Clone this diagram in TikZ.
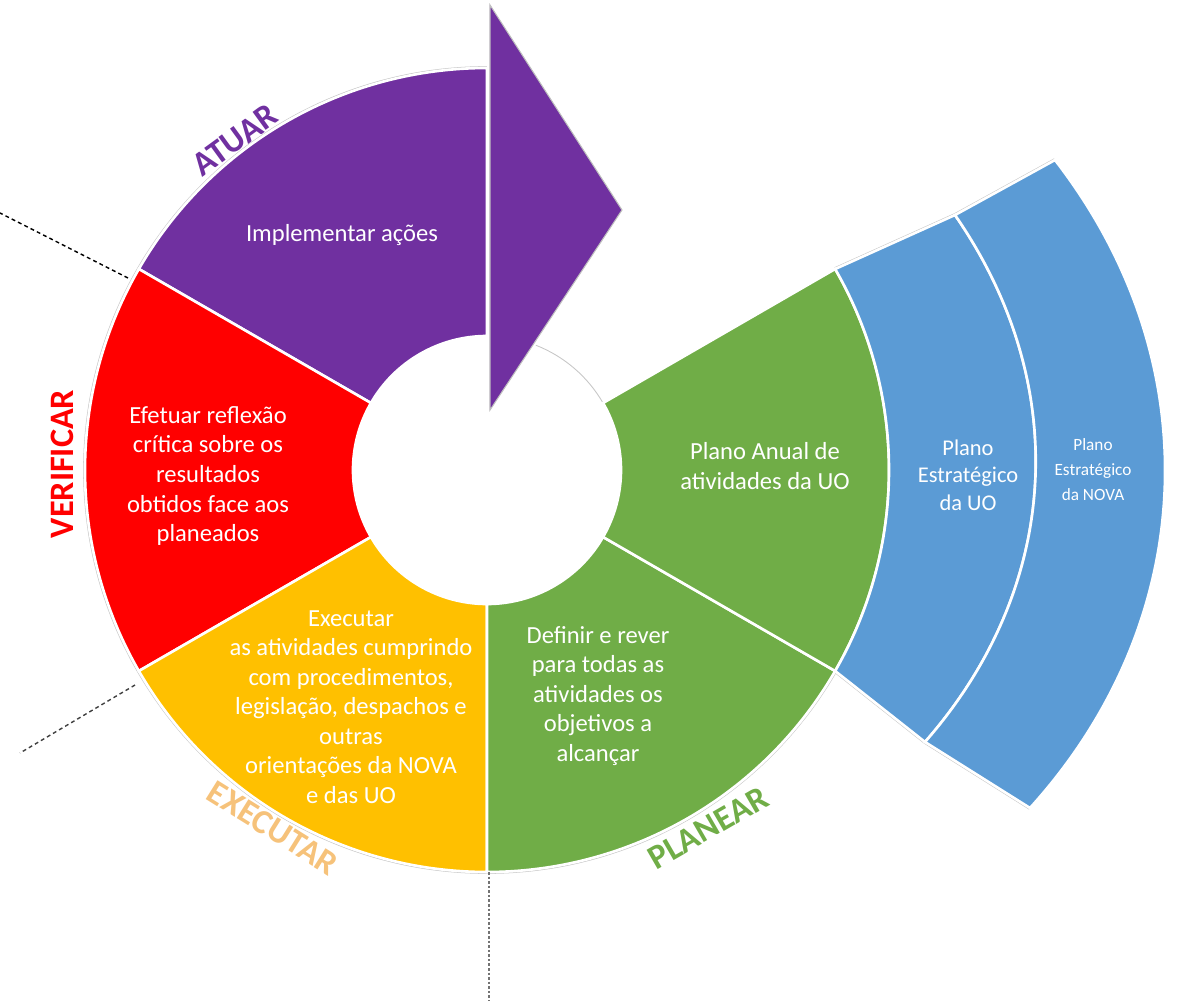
\documentclass[tikz,border=0pt]{standalone}
\usepackage{fontspec}
\setmainfont{Carlito}
\usepackage{xcolor}
\usepackage{tikz}
\usetikzlibrary{calc}
\definecolor{atuarpurple}{HTML}{7030A0}
\definecolor{verificarred}{HTML}{FF0000}
\definecolor{executaryellow}{HTML}{FFC000}
\definecolor{executarlabel}{HTML}{F6C27A}
\definecolor{planeargreen}{HTML}{70AD47}
\definecolor{planoblue}{HTML}{5B9BD5}
\tikzset{
    sector/.style={draw=white, line width=1.5pt},
    shadowline/.style={draw=black!22, line width=2.1pt},
    hairline/.style={draw=black!22, line width=0.5pt},
    cycletext/.style={text=white, align=center, inner sep=0pt, font=\fontsize{14}{16.8}\selectfont},
    phaselabel/.style={inner sep=0pt, font=\fontsize{19.5}{23}\selectfont\bfseries},
    guideline/.style={dashed, line width=0.8pt, dash pattern=on 2.2pt off 1.8pt}
}

\begin{document}
\begin{tikzpicture}[x=0.02cm, y=0.02cm]
    \useasboundingbox (-487,-531) rectangle (713,470);

    % Corners of the blue bands
    \coordinate (bandonetop) at (468,255);
    \coordinate (bandonebot) at (438,-272);
    \coordinate (bandtwotop) at (568,310);
    \coordinate (bandtwobot) at (543,-338);

    % Outline
    \draw [shadowline] (90:402) arc[start angle=90, end angle=390, radius=402];
    \draw [shadowline] (30:402) -- (bandonetop) -- (bandtwotop);
    \draw [shadowline] (-30:402) -- (bandonebot) -- (bandtwobot);
    \draw [hairline] (68.6:134) arc[start angle=68.6, end angle=30, radius=134] -- (30:402);

    % Sectors
    \path [sector, fill=atuarpurple] (90:134) -- (90:402) arc[start angle=90, end angle=150, radius=402] -- (150:134) arc[start angle=150, end angle=90, radius=134] -- cycle;
    \path [sector, fill=verificarred] (150:134) -- (150:402) arc[start angle=150, end angle=210, radius=402] -- (210:134) arc[start angle=210, end angle=150, radius=134] -- cycle;
    \path [sector, fill=executaryellow] (210:134) -- (210:402) arc[start angle=210, end angle=270, radius=402] -- (270:134) arc[start angle=270, end angle=210, radius=134] -- cycle;
    \path [sector, fill=planeargreen] (270:134) -- (270:402) arc[start angle=270, end angle=330, radius=402] -- (330:134) arc[start angle=330, end angle=270, radius=134] -- cycle;
    \path [sector, fill=planeargreen] (-30:134) -- (-30:402) arc[start angle=-30, end angle=30, radius=402] -- (30:134) arc[start angle=30, end angle=-30, radius=134] -- cycle;

    % Blue bands
    \path [sector, fill=planoblue] (30:402) -- (bandonetop) to[bend left=38] (bandonebot) -- (-30:402) arc[start angle=-30, end angle=30, radius=402] -- cycle;
    \path [sector, fill=planoblue] (bandonetop) -- (bandtwotop) to[bend left=40] (bandtwobot) -- (bandonebot) to[bend right=38] (bandonetop) -- cycle;

    % Arrow
    \path [fill=atuarpurple, draw=black!25, line width=0.6pt] (3,465) -- (135,260) -- (3,60) -- cycle;

    % Texts
    \node (implementar) [cycletext] at (-145,235) {Implementar ações};
    \node (efetuar) [cycletext] at (-279,-6) {Efetuar reflexão\\crítica sobre os\\resultados\\obtidos face aos\\planeados};
    \node (executar) [cycletext] at (-136,-237) {Executar\\as atividades cumprindo\\com procedimentos,\\legislação, despachos e\\outras\\orientações da NOVA\\e das UO};
    \node (definir) [cycletext] at (111,-226) {Definir e rever\\para todas as\\atividades os\\objetivos a\\alcançar};
    \node (planoanual) [cycletext] at (278,4) {Plano Anual de\\atividades da UO};
    \node (planouo) [cycletext, font=\fontsize{12.8}{15.6}\selectfont] at (481,-5) {Plano\\Estratégico\\da UO};
    \node (planonova) [cycletext, font=\fontsize{9.8}{14.2}\selectfont] at (606,0) {Plano\\Estratégico\\da NOVA};

    % Phase labels
    \node (atuar) [phaselabel, text=atuarpurple, rotate=36] at (-252,330) {ATUAR};
    \node (verificar) [phaselabel, text=verificarred, rotate=90] at (-425,6) {VERIFICAR};
    \node (executarlbl) [phaselabel, text=executarlabel, rotate=-32] at (-214,-358) {EXECUTAR};
    \node (planear) [phaselabel, text=planeargreen, rotate=30] at (221,-358) {PLANEAR};

    % Guides
    \coordinate (guideone) at (-359,192);
    \coordinate (guideoneend) at (-487,257);
    \coordinate (guidetwo) at (-352,-215);
    \coordinate (guidetwoend) at (-467,-283);
    \coordinate (guidethree) at (2,-402);
    \coordinate (guidethreeend) at (2,-531);
    \draw [guideline, black] (guideone) -- (guideoneend);
    \draw [guideline, black!75] (guidetwo) -- (guidetwoend);
    \draw [guideline, black!55, line width=1.1pt, dash pattern=on 1.5pt off 1.1pt] (guidethree) -- (guidethreeend);
\end{tikzpicture}
\end{document}
